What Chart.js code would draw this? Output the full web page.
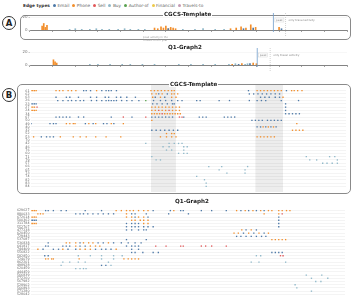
<!DOCTYPE html>
<html>
<head>
<meta charset="utf-8">
<script src="https://cdn.jsdelivr.net/npm/chart.js@4.4.0/dist/chart.umd.min.js"></script>
<style>
body{margin:0;width:351px;height:295px;overflow:hidden;background:#fff;position:relative;font-family:"DejaVu Sans",sans-serif;}
canvas{position:absolute;}
.box{position:absolute;border:1px solid #8a8a8a;border-radius:5px;}
.title{position:absolute;font-weight:bold;font-size:5.6px;color:#222;background:#fff;padding:0 1px;line-height:6px;white-space:nowrap;}
.circle{position:absolute;width:12px;height:12px;border:1.3px solid #333;border-radius:50%;font-weight:bold;font-size:8.5px;line-height:12px;text-align:center;color:#222;background:#fff;}
.legend{position:absolute;left:23px;top:3px;font-size:4.3px;color:#666;white-space:nowrap;line-height:6px;}
.legend b{color:#333;margin-right:3px;}
.legend span{display:inline-block;margin-right:3px;}
.legend i{display:inline-block;width:3px;height:3px;border-radius:50%;margin-right:1.5px;vertical-align:0;}
.note{position:absolute;font-size:2.6px;color:#999;line-height:3px;white-space:nowrap;}
</style>
</head>
<body>
<div class="legend" id="legend"><b>Edge types</b></div>

<div class="circle" style="left:2px;top:16px;">A</div>
<div class="box" style="left:20px;top:15px;width:329px;height:23px;"></div>
<canvas id="a1" width="332" height="24" style="left:18px;top:13px;"></canvas>
<div class="title" style="left:163px;top:11px;">CGCS-Template</div>
<div class="note" style="left:143px;top:35.5px;text-align:center;">peak activity in the<br>middle of the year</div>

<div class="title" style="left:167px;top:44px;">Q1-Graph2</div>
<canvas id="a2" width="332" height="24" style="left:18px;top:48px;"></canvas>

<div class="circle" style="left:2px;top:88px;">B</div>
<div class="box" style="left:17px;top:84px;width:332px;height:108px;"></div>
<canvas id="b1" width="333" height="108" style="left:17px;top:84px;"></canvas>
<div class="title" style="left:169px;top:81px;">CGCS-Template</div>

<div class="title" style="left:174px;top:198px;">Q1-Graph2</div>
<canvas id="b2" width="334" height="95" style="left:15px;top:205px;"></canvas>

<script>
// Edge types and their colours
const edgeTypes = ['Email','Phone','Sell','Buy','Author-of','Financial','Travels-to'];
const edgeColors = ['#4e79a7','#f28e2b','#e15759','#8fb8c9','#59a14f','#edc948','#c49ab5'];

// Panel A: activity counts per day [day, count]
const a1Email = [[157,2],[250,2],[262,3],[297,2]];
const a1Phone = [[1,6],[3,10],[5,4],[7,7],[140,3],[144,2],[148,5],[151,3],[154,6],[157,2],[160,4],[163,3],[166,2],[234,2],[241,3],[247,5],[253,3],[259,8],[265,4],[294,4]];
const a1Buy = [[35,1],[42,2],[50,1],[60,1],[68,2],[75,1],[84,1],[95,1],[103,2],[110,1],[120,1],[128,1],[175,1],[190,1],[200,2],[215,1],[226,1]];
const a1Peak = 287, a1Travel = 302;

const a2Email = [[244,1],[258,2]];
const a2Phone = [[15,8],[17,5],[19,3],[236,1],[248,2],[262,3],[266,2]];
const a2Buy = [[60,1],[70,1],[85,1],[100,1],[110,1],[125,1],[140,1],[170,1],[185,1],[200,1],[215,1],[232,1],[240,2],[252,1],[255,2]];
const a2Peak = 267, a2Travel = 283;

// Panel B, CGCS-Template: row labels and events [row, day]
const b1Labels = ['61','62','63','26','23','27','24','34','67','50','49','40','32','52','53','70','42','46','76','60','71','79','57','66','65','73','74','82','83','84'];
const b1Bands = [[139,168],[260,292]];
const b1Email = [[0,61],[0,64],[0,69],[0,82],[0,87],[0,90],[0,93],[0,99],[0,252],[0,296],
  [1,148],[1,158],[1,253],[1,258],[1,263],[1,268],[1,273],[1,278],[1,283],[1,288],
  [2,29],[2,41],[2,45],[2,55],[2,69],[2,76],[2,86],[2,90],[2,99],[2,104],[2,111],[2,121],[2,144],[2,155],[2,266],[2,271],[2,276],[2,283],[2,288],
  [3,31],[3,37],[3,43],[3,47],[3,52],[3,57],[3,61],[3,70],[3,76],[3,82],[3,87],[3,90],[3,93],[3,96],[3,99],[3,105],[3,111],[3,117],[3,125],[3,142],[3,150],[3,156],[3,163],[3,170],[3,175],[3,192],[3,196],[3,218],[3,230],[3,253],[3,262],[3,267],[3,272],[3,290],[3,310],
  [4,0],[4,2],[4,4],[4,6],[4,141],[4,146],[4,152],[4,158],[4,164],[4,166],[4,295],
  [5,295],[6,295],[7,295],[7,299],[7,303],[7,307],[7,311],
  [8,29],[8,33],[8,37],[8,41],[8,45],[8,55],[8,61],[8,93],[8,117],[8,140],[8,144],[8,148],[8,152],[8,156],[8,160],[8,164],[8,177],[8,195],[8,199],[8,203],[8,224],[8,228],[8,232],[8,236],
  [9,256],[9,260],[9,264],[9,268],[9,274],[9,278],[9,282],[9,286],[9,290],
  [10,0],[10,22],[10,26],[10,29],[10,63],[10,72],[10,84],[10,88],[10,96],
  [11,262],[11,266],[11,272],[11,278],[11,284],
  [12,140],[12,145],[12,150],[12,155],[12,160],[12,165],[12,170],
  [14,12],[14,18],[14,22],[14,26]];
const b1Phone = [[0,0],[0,2],[0,4],[0,6],[0,29],[0,33],[0,37],[0,43],[0,47],[0,52],[0,76],[0,139],[0,143],[0,147],[0,151],[0,155],[0,159],[0,163],[0,166],[0,262],[0,266],[0,270],[0,274],[0,278],[0,282],[0,286],[0,290],[0,302],[0,305],[0,309],[0,314],
  [1,140],[1,145],[1,152],[1,163],[1,166],[1,170],
  [2,141],[2,150],[2,163],[2,168],[2,292],
  [5,0],[5,2],[5,4],[5,140],[5,144],[5,148],[5,152],[5,156],[5,160],[5,164],[5,168],[5,172],
  [6,0],[6,2],[6,4],[6,6],[6,140],[6,144],[6,152],[6,156],[6,164],[6,168],[6,172],
  [7,140],[7,143],[7,146],[7,149],[7,155],[7,158],[7,161],[7,164],[7,167],[7,170],[7,173],
  [9,140],
  [10,41],[10,45],[10,49],[10,51],[10,67],[10,75],[10,93],[10,107],[10,308],
  [11,269],[11,275],[11,281],
  [12,303],[12,307],[12,311],[12,315],
  [13,157],[13,163],[13,166],
  [14,3],[14,34],[14,49],[14,57],[14,64],[14,75],[14,87],[14,104],[14,150],[14,157],[14,163],[14,168],[14,262],[14,266],[14,270],[14,274],[14,278],[14,282]];
const b1Sell = [[5,7],[6,148],[6,160],[7,152],[8,107],[8,133],[8,172],[8,175]];
const b1Author = [[3,133]];
const b1Buy = [[16,133],[16,160],[16,166],[16,171],[16,175],[17,153],[17,160],[17,177],[17,181],[18,157],[18,163],[18,177],[19,171],[19,177],[19,181],
  [20,140],[20,319],[20,346],[20,352],[21,145],[21,150],[21,323],[21,331],[21,355],[22,338],[22,343],[22,349],[22,355],
  [23,206],[23,221],[23,251],[24,218],[24,248],[25,227],[25,248],[26,192],[27,201],[28,203],[29,203]];

// Panel B, Q1-Graph2
const b2Labels = ['629627','880033','672614','500362','311784','552707','477238','620450','729443','537087','536838','641817','744409','556822','582850','724079','862201','498928','620459','444459','566839','572260','567982','528902','566893','571280','528042'];
const b2Email = [[0,17],[0,20],[0,26],[0,35],[0,41],[0,63],[0,82],[0,142],[0,162],[0,174],[0,177],[0,198],[0,210],[0,227],[0,244],[0,253],[0,262],[0,271],
  [1,52],[1,57],[1,61],[1,66],[1,72],[1,78],[1,84],[1,90],[1,96],[1,117],[1,121],[1,134],[1,160],[1,183],
  [2,121],[2,136],[2,288],[3,0],[3,2],[3,4],[3,6],[3,288],[4,111],[4,117],[4,121],[4,125],[4,288],
  [5,111],[5,117],[5,121],[5,125],[5,131],[5,136],[5,142],[5,288],
  [6,111],[6,117],[6,125],[6,131],[6,134],[6,250],[6,262],
  [7,247],[7,259],[7,271],
  [8,239],[8,244],[8,250],[8,256],[8,262],[8,268],[8,273],
  [9,111],[9,134],
  [10,20],[10,57],[10,78],[10,84],[10,96],[10,105],[10,113],[10,121],[10,128],
  [11,17],[11,20],[11,37],[11,41],[11,45],[11,57],[11,63],[11,111],[11,117],[11,121],[11,125],
  [12,14],[12,26],[12,32],[12,43],[12,52],[12,75],[12,82],[12,87],[12,93],[12,117],[12,125],
  [13,117],[13,121],[13,130],[13,142],[13,148],[13,280],[13,284],[13,288],[13,292],
  [14,16],[14,20],[17,82],[17,87]];
const b2Phone = [[0,0],[0,2],[0,4],[0,6],[0,99],[0,105],[0,111],[0,115],[0,119],[0,125],[0,131],[0,136],[0,166],[0,239],[0,249],[0,258],[0,267],[0,276],[0,280],[0,288],[0,292],[0,297],[0,301],
  [1,8],[1,11],[1,14],[1,111],[1,271],[1,288],
  [2,0],[2,2],[2,4],[2,6],[2,111],[2,117],[2,125],[2,131],
  [3,117],[3,121],[3,127],[3,131],[3,136],
  [4,0],[4,2],[4,4],[4,6],[4,131],[4,136],
  [6,245],[6,256],
  [7,236],[7,241],[7,253],[7,265],[7,276],
  [9,280],[9,284],[9,288],[9,292],[9,296],
  [10,41],[10,45],[10,52],[10,61],[10,67],[10,72],[10,90],
  [11,52],[11,69],[11,75],[11,80],
  [12,8],[12,37],[12,57],[12,63],[12,69],[12,99],
  [15,17],[15,20],[15,24],[15,26],[15,56],[15,108],[15,113],[15,117],[15,121],[15,125]];
const b2Sell = [[1,292],[11,145],[11,157],[11,174],[11,177],[11,198],[11,203],[11,210],[11,227],[14,290],[14,293]];
const b2Buy = [[14,55],[14,69],[14,82],[14,96],[14,106],[14,262],[14,267],[15,82],[15,96],
  [16,37],[16,45],[16,55],[16,63],[16,90],[16,256],[16,265],[16,296],[17,35],[17,93],[18,52],[18,57],[18,61],[18,64],
  [20,320],[20,338],[21,326],[21,345],[22,331],[22,337],[23,307],[24,309],[25,326]];

// legend
const legendEl = document.getElementById('legend');
edgeTypes.forEach((t,i)=>{
  const s = document.createElement('span');
  s.innerHTML = `<i style="background:${edgeColors[i]}"></i>${t}`;
  legendEl.appendChild(s);
});

const colorOf = t => edgeColors[edgeTypes.indexOf(t)];

// annotation for the overview charts: peak line, travel-only boundary
function peakPlugin(peak, travel){
  return {
    id:'peak',
    afterDatasetsDraw(chart){
      const {ctx, chartArea:a, scales:{x}} = chart;
      const px = x.getPixelForValue(peak), tx = x.getPixelForValue(travel);
      ctx.save();
      ctx.strokeStyle = '#6d9cc9'; ctx.lineWidth = 0.8;
      ctx.beginPath(); ctx.moveTo(px, a.top-4); ctx.lineTo(px, a.bottom+2); ctx.stroke();
      ctx.strokeStyle = '#b5b5b5'; ctx.lineWidth = 0.6; ctx.setLineDash([1,1]);
      ctx.beginPath(); ctx.moveTo(tx, a.top-4); ctx.lineTo(tx, chart.height); ctx.stroke();
      ctx.setLineDash([]);
      ctx.fillStyle = '#fff'; ctx.strokeStyle = '#ccc'; ctx.lineWidth = 0.4;
      ctx.fillRect(px+1.5, a.top+1, 9, 4); ctx.strokeRect(px+1.5, a.top+1, 9, 4);
      ctx.fillStyle = '#888'; ctx.font = '2.8px "DejaVu Sans"'; ctx.textBaseline = 'middle';
      ctx.fillText('peak', px+2.5, a.top+3.1);
      ctx.fillText('only travel activity', tx+3, a.top+3.1);
      ctx.restore();
    }
  };
}

function barSet(data, type){
  return {data:data.map(p=>({x:p[0], y:p[1]})), backgroundColor:colorOf(type), barThickness:1, grouped:false};
}

function overview(id, email, phone, buy, peak, travel){
  new Chart(document.getElementById(id), {
    type:'bar',
    data:{datasets:[barSet(buy,'Buy'), barSet(email,'Email'), barSet(phone,'Phone')]},
    options:{
      responsive:false, animation:false, devicePixelRatio:1,
      layout:{padding:{top:4, right:3, left:0, bottom:0}},
      plugins:{legend:{display:false}, tooltip:{enabled:false}},
      scales:{
        x:{type:'linear', min:0, max:364, afterFit:s=>{s.height=7;},
          ticks:{stepSize:28, display:false},
          grid:{drawOnChartArea:false, drawTicks:true, tickLength:2, color:'#666', lineWidth:0.6},
          border:{display:true, color:'#666', width:0.8}},
        y:{min:0, max:20, afterFit:s=>{s.width=12;},
          ticks:{stepSize:20, font:{size:4, family:'DejaVu Sans'}, color:'#777', padding:1},
          grid:{color:'#eee', lineWidth:0.5, tickLength:1.5, tickColor:'#999'},
          border:{display:false}}
      }
    },
    plugins:[peakPlugin(peak, travel)]
  });
}

overview('a1', a1Email, a1Phone, a1Buy, a1Peak, a1Travel);
overview('a2', a2Email, a2Phone, a2Buy, a2Peak, a2Travel);

// shaded periods behind the event rows
function bandPlugin(bands){
  return {
    id:'bands',
    beforeDatasetsDraw(chart){
      const {ctx, scales:{x}} = chart;
      ctx.save(); ctx.fillStyle = 'rgba(0,0,0,0.07)';
      bands.forEach(b=>{
        const x0 = x.getPixelForValue(b[0]), x1 = x.getPixelForValue(b[1]);
        ctx.fillRect(x0, 1, x1-x0, chart.height-1);
      });
      ctx.restore();
    }
  };
}

function dotSet(data, type){
  return {data:data.map(p=>({x:p[1], y:p[0]})), backgroundColor:colorOf(type), pointRadius:0.95, pointBorderWidth:0, pointStyle:'rect'};
}

function timeline(id, labels, sets, bands, yWidth, padTop){
  new Chart(document.getElementById(id), {
    type:'scatter',
    data:{datasets:sets},
    options:{
      responsive:false, animation:false, devicePixelRatio:1,
      layout:{padding:{top:padTop, right:4, bottom:0, left:0}},
      plugins:{legend:{display:false}, tooltip:{enabled:false}},
      scales:{
        x:{type:'linear', min:0, max:365, display:false},
        y:{type:'linear', reverse:true, min:-0.5, max:labels.length-0.5,
          afterFit:s=>{s.width=yWidth;},
          afterBuildTicks:s=>{s.ticks = labels.map((_,i)=>({value:i}));},
          ticks:{autoSkip:false, callback:v=>labels[v], font:{size:3.3, family:'DejaVu Sans'}, color:'#666', padding:1.5},
          grid:{color:'#e8e8e8', lineWidth:0.5, drawTicks:false},
          border:{display:false}}
      }
    },
    plugins: bands ? [bandPlugin(bands)] : []
  });
}

timeline('b1', b1Labels, [dotSet(b1Buy,'Buy'), dotSet(b1Email,'Email'), dotSet(b1Phone,'Phone'), dotSet(b1Sell,'Sell'), dotSet(b1Author,'Author-of')], b1Bands, 14, 5);
timeline('b2', b2Labels, [dotSet(b2Buy,'Buy'), dotSet(b2Email,'Email'), dotSet(b2Phone,'Phone'), dotSet(b2Sell,'Sell')], null, 16, 1);
</script>
</body>
</html>
